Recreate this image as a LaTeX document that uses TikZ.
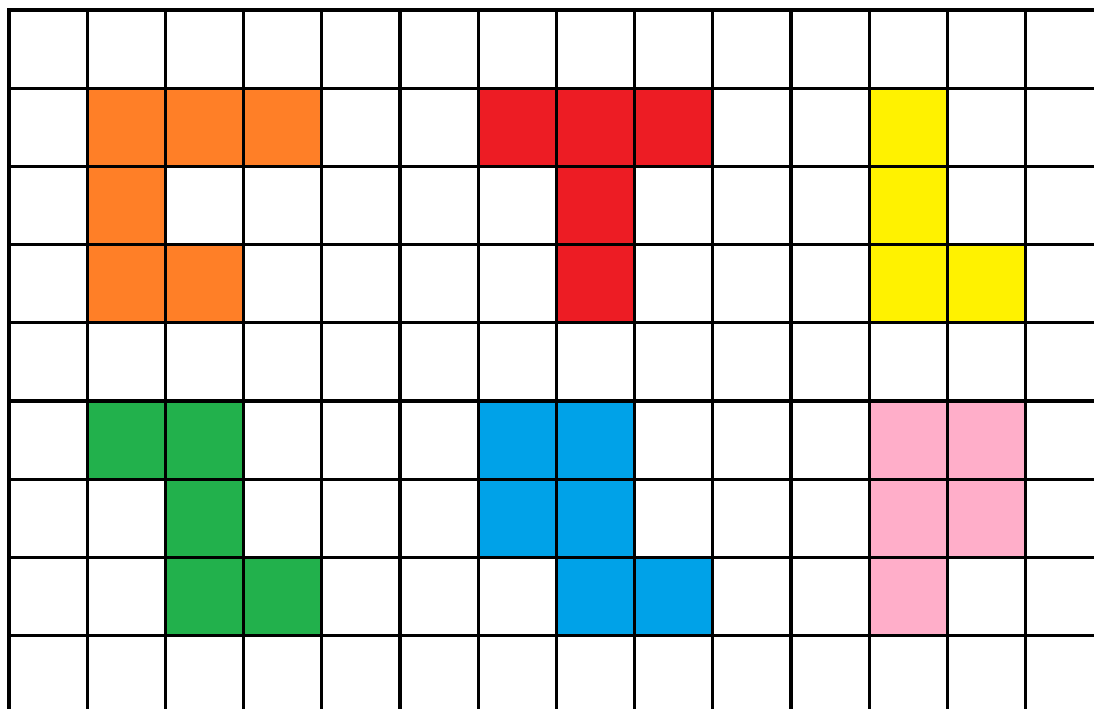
\documentclass[tikz,border=0pt]{standalone}
\usepackage{tikz}
\definecolor{paintorange}{RGB}{255,127,39}
\definecolor{paintred}{RGB}{237,28,36}
\definecolor{paintyellow}{RGB}{255,242,0}
\definecolor{paintgreen}{RGB}{34,177,76}
\definecolor{paintblue}{RGB}{0,162,232}
\definecolor{paintpink}{RGB}{255,174,201}
\tikzset{
  gridrule/.style={draw=black,line width=1.2pt,line cap=rect},
}
% fill cell at column #2, row #3 (rows counted from the top)
\newcommand{\paintcell}[3]{\fill[#1] (#2,8-#3) rectangle ++(1,1);}

\begin{document}
\begin{tikzpicture}
  \useasboundingbox (-0.115,0.074) rectangle (13.875,9.128);
  \clip (-0.115,0.074) rectangle (13.875,9.128);
  % orange
  \foreach \col/\row in {1/1,2/1,3/1,1/2,1/3,2/3} {\paintcell{paintorange}{\col}{\row}}
  % red
  \foreach \col/\row in {6/1,7/1,8/1,7/2,7/3} {\paintcell{paintred}{\col}{\row}}
  % yellow
  \foreach \col/\row in {11/1,11/2,11/3,12/3} {\paintcell{paintyellow}{\col}{\row}}
  % green
  \foreach \col/\row in {1/5,2/5,2/6,2/7,3/7} {\paintcell{paintgreen}{\col}{\row}}
  % blue
  \foreach \col/\row in {6/5,7/5,6/6,7/6,7/7,8/7} {\paintcell{paintblue}{\col}{\row}}
  % pink
  \foreach \col/\row in {11/5,12/5,11/6,12/6,11/7} {\paintcell{paintpink}{\col}{\row}}
  % grid
  \foreach \gx in {0,...,13} {\draw[gridrule] (\gx,9) -- (\gx,-0.5);}
  \foreach \gy in {1,...,9} {\draw[gridrule] (0,\gy) -- (14.5,\gy);}
\end{tikzpicture}
\end{document}
